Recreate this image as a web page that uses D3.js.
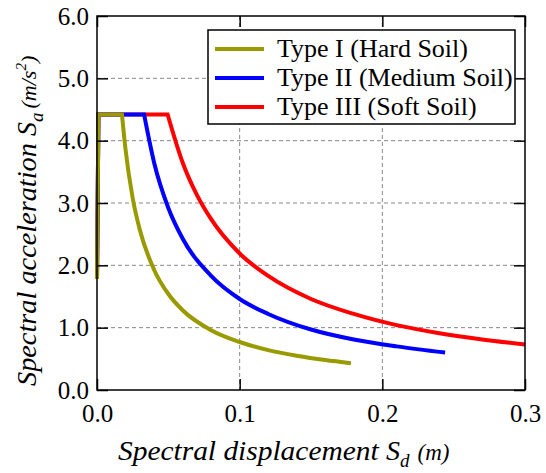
<!DOCTYPE html>
<html>
<head>
<meta charset="utf-8">
<script src="https://cdn.jsdelivr.net/npm/d3@7"></script>
<style>
  body { margin: 0; background: #fff; }
</style>
</head>
<body>
<div id="chart"></div>
<script>
// values
var xTicks = [0, 0.1, 0.2, 0.3];
var yTicks = [0, 1, 2, 3, 4, 5, 6];
var seriesNames = ["Type I (Hard Soil)", "Type II (Medium Soil)", "Type III (Soft Soil)"];
var seriesColors = ["#999900", "#0000ff", "#ff0000"];

var sdTypeI = [0, 0.001, 0.0175, 0.02, 0.025, 0.03, 0.04, 0.05, 0.06, 0.08, 0.1, 0.12, 0.14, 0.16, 0.178];
var saTypeI = [1.78, 4.42, 4.42, 3.86, 3.08, 2.57, 1.93, 1.54, 1.28, 0.96, 0.77, 0.64, 0.55, 0.48, 0.43];

var sdTypeII = [0, 0.001, 0.033, 0.04, 0.05, 0.06, 0.08, 0.1, 0.12, 0.15, 0.18, 0.21, 0.244];
var saTypeII = [1.78, 4.42, 4.42, 3.65, 2.92, 2.43, 1.83, 1.46, 1.22, 0.97, 0.81, 0.70, 0.60];

var sdTypeIII = [0, 0.001, 0.0495, 0.06, 0.07, 0.08, 0.1, 0.12, 0.15, 0.18, 0.21, 0.24, 0.27, 0.3];
var saTypeIII = [1.78, 4.42, 4.42, 3.65, 3.13, 2.74, 2.19, 1.83, 1.46, 1.22, 1.04, 0.91, 0.81, 0.73];

var FONT = "Liberation Serif";
var width = 546, height = 473;
var margin = {left: 97, right: 21, top: 16, bottom: 83};
var plotW = width - margin.left - margin.right;
var plotH = height - margin.top - margin.bottom;

var svg = d3.select("#chart").append("svg")
    .attr("width", width)
    .attr("height", height)
    .attr("font-family", FONT);

var g = svg.append("g")
    .attr("transform", "translate(" + margin.left + "," + margin.top + ")");

var x = d3.scaleLinear().domain([0, 0.3]).range([0, plotW]);
var y = d3.scaleLinear().domain([0, 6]).range([plotH, 0]);

// grid
g.append("g").selectAll("line").data(yTicks.slice(1, -1))
    .enter().append("line")
    .attr("x1", 0).attr("x2", plotW)
    .attr("y1", function(d) { return y(d); })
    .attr("y2", function(d) { return y(d); })
    .attr("stroke", "#888").attr("stroke-width", 1)
    .attr("stroke-dasharray", "4,3");
g.append("g").selectAll("line").data(xTicks.slice(1, -1))
    .enter().append("line")
    .attr("y1", 0).attr("y2", plotH)
    .attr("x1", function(d) { return x(d); })
    .attr("x2", function(d) { return x(d); })
    .attr("stroke", "#888").attr("stroke-width", 1)
    .attr("stroke-dasharray", "4,3");

// curves: straight rise + plateau, then smooth descending branch
var series = [
    {name: seriesNames[0], color: seriesColors[0], sd: sdTypeI, sa: saTypeI},
    {name: seriesNames[1], color: seriesColors[1], sd: sdTypeII, sa: saTypeII},
    {name: seriesNames[2], color: seriesColors[2], sd: sdTypeIII, sa: saTypeIII}
];
var lineLin = d3.line().x(function(d) { return x(d[0]); }).y(function(d) { return y(d[1]); });
var lineCurve = d3.line().x(function(d) { return x(d[0]); }).y(function(d) { return y(d[1]); })
    .curve(d3.curveMonotoneX);

function pathFor(s) {
    var pts = s.sd.map(function(v, i) { return [v, s.sa[i]]; });
    var head = lineLin(pts.slice(0, 3));
    var tail = lineCurve(pts.slice(2)).replace(/^M/, "L");
    return head + tail;
}

g.append("g").selectAll("path").data(series.slice().reverse())
    .enter().append("path")
    .attr("d", pathFor)
    .attr("fill", "none")
    .attr("stroke", function(d) { return d.color; })
    .attr("stroke-width", 4)
    .attr("stroke-linejoin", "miter");

// axes, ticks inward on all four sides
var fmt = d3.format(".1f");
var axL = g.append("g")
    .call(d3.axisLeft(y).tickValues(yTicks).tickFormat(fmt).tickSizeInner(-11).tickSizeOuter(0).tickPadding(8));
var axB = g.append("g").attr("transform", "translate(0," + plotH + ")")
    .call(d3.axisBottom(x).tickValues(xTicks).tickFormat(fmt).tickSizeInner(-11).tickSizeOuter(0).tickPadding(14));
var axT = g.append("g")
    .call(d3.axisTop(x).tickValues(xTicks).tickFormat("").tickSizeInner(-11).tickSizeOuter(0));
var axR = g.append("g").attr("transform", "translate(" + plotW + ",0)")
    .call(d3.axisRight(y).tickValues(yTicks).tickFormat("").tickSizeInner(-11).tickSizeOuter(0));

[axL, axB, axT, axR].forEach(function(a) {
    a.select(".domain").remove();
    a.selectAll("line").attr("stroke", "#000").attr("stroke-width", 1.5);
    a.selectAll("text").attr("font-size", 25).attr("font-family", FONT).attr("fill", "#000");
});

g.append("rect")
    .attr("x", 0).attr("y", 0).attr("width", plotW).attr("height", plotH)
    .attr("fill", "none").attr("stroke", "#000").attr("stroke-width", 1.5);

// legend
var lg = svg.append("g").attr("transform", "translate(208,30)");
lg.append("rect")
    .attr("width", 307).attr("height", 94)
    .attr("fill", "#fff").attr("stroke", "#000").attr("stroke-width", 1.5);
var item = lg.selectAll(".item").data(series)
    .enter().append("g")
    .attr("transform", function(d, i) { return "translate(0," + (19 + i * 29) + ")"; });
item.append("line")
    .attr("x1", 7).attr("x2", 56)
    .attr("stroke", function(d) { return d.color; })
    .attr("stroke-width", 4);
item.append("text")
    .attr("x", 69).attr("y", 8)
    .attr("font-size", 26)
    .text(function(d) { return d.name; });

// axis titles
var xt = svg.append("text")
    .attr("x", 118).attr("y", 460)
    .attr("font-size", 28).attr("font-style", "italic");
xt.append("tspan").text("Spectral displacement ")
    .attr("textLength", 268).attr("lengthAdjust", "spacingAndGlyphs");
xt.append("tspan").text("S");
xt.append("tspan").text("d").attr("font-size", 19).attr("dy", 7);
xt.append("tspan").text("(m)").attr("font-size", 23).attr("dy", -7).attr("dx", 8);

var yt = svg.append("text")
    .attr("transform", "translate(36,386) rotate(-90)")
    .attr("font-size", 28).attr("font-style", "italic");
yt.append("tspan").text("Spectral acceleration ")
    .attr("textLength", 250).attr("lengthAdjust", "spacingAndGlyphs");
yt.append("tspan").text("S");
yt.append("tspan").text("a").attr("font-size", 19).attr("dy", 7);
yt.append("tspan").text("(m/s").attr("font-size", 22).attr("dy", -7).attr("dx", 4);
yt.append("tspan").text("2").attr("font-size", 15).attr("dy", -10);
yt.append("tspan").text(")").attr("font-size", 22).attr("dy", 10);
</script>
</body>
</html>
